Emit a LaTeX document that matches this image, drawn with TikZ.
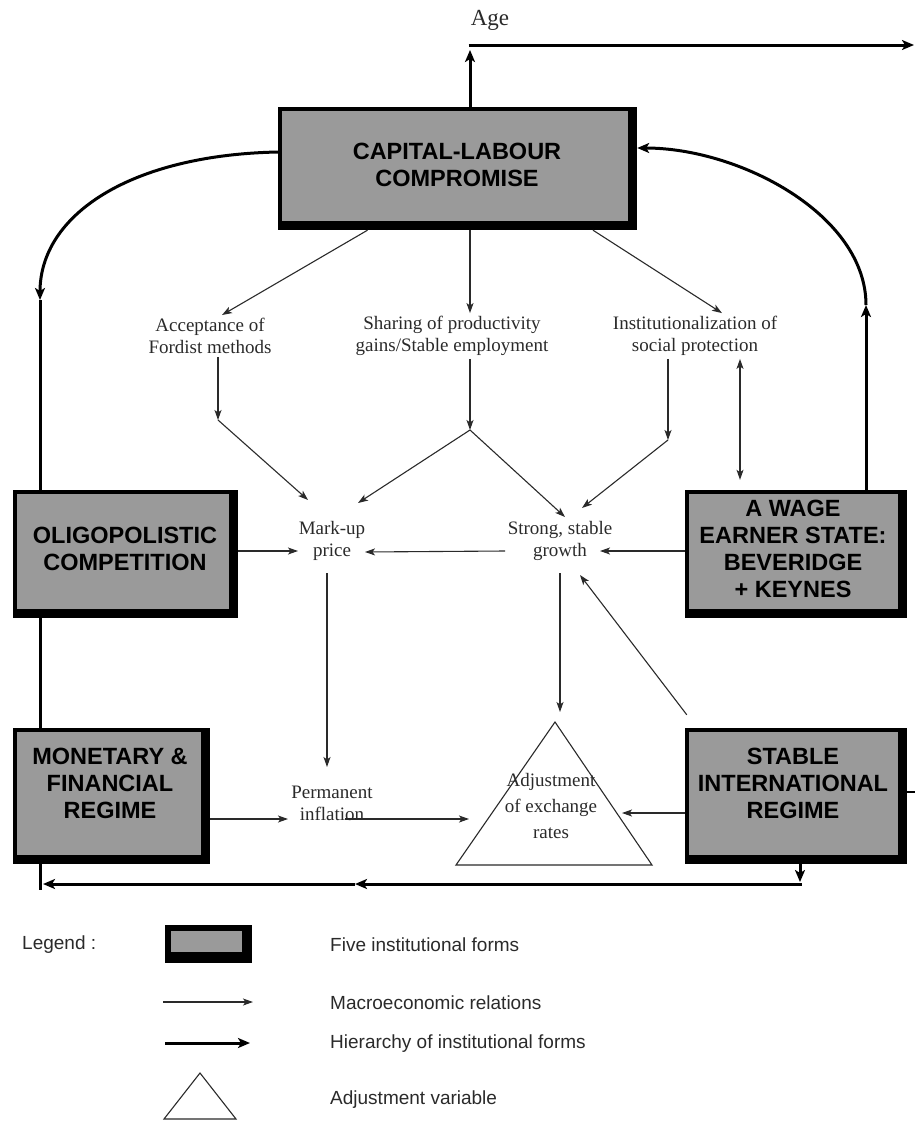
\documentclass[tikz,border=0pt]{standalone}
\usepackage{fontspec}
\setmainfont{Liberation Serif}
\setsansfont{Liberation Sans}
\usetikzlibrary{arrows.meta,calc}
\definecolor{boxgray}{HTML}{9A9A9A}
\definecolor{ink}{HTML}{2A2A2A}
\begin{document}
\begin{tikzpicture}[x=1pt,y=-1pt,
  inst/.style={fill=black, draw=none, inner sep=0pt,
    path picture={\fill[boxgray] ([shift={(4pt,-4pt)}]path picture bounding box.north west) rectangle ([shift={(-9pt,9pt)}]path picture bounding box.south east);}},
  legbox/.style={fill=black, draw=none, inner sep=0pt,
    path picture={\fill[boxgray] ([shift={(6pt,-6pt)}]path picture bounding box.north west) rectangle ([shift={(-10pt,11pt)}]path picture bounding box.south east);}},
  boxtxt/.style={font=\sffamily\bfseries\fontsize{23.5}{27}\selectfont, align=center, text=black, inner sep=0pt},
  lab/.style={font=\fontsize{19}{22}\selectfont, align=center, inner sep=3pt, text=ink},
  rel/.style={draw=ink, line width=1.1pt, -{Stealth[length=10pt,width=7pt,inset=2.5pt]}},
  hier/.style={draw=black, line width=3pt},
  htip/.style={-{Stealth[length=12pt,width=10pt,inset=3pt]}},
  legtxt/.style={font=\sffamily\fontsize{19}{22}\selectfont, anchor=west, text=ink, inner sep=0pt}]
\useasboundingbox (0,0) rectangle (915,1122);

% ---- institutional boxes
\node[inst, minimum width=359pt, minimum height=123pt] (cl) at (457.5,168.5) {};
\node[boxtxt] (clt) at (457,165) {CAPITAL-LABOUR\\COMPROMISE};
\node[inst, minimum width=225pt, minimum height=128pt] (oc) at (125.5,554) {};
\node[boxtxt] (oct) at (125,549) {OLIGOPOLISTIC\\COMPETITION};
\node[inst, minimum width=197pt, minimum height=136pt] (mf) at (111.5,796) {};
\node[boxtxt] (mft) at (110,783) {MONETARY \&\\FINANCIAL\\REGIME};
\node[inst, minimum width=222pt, minimum height=128pt] (wes) at (796,554) {};
\node[boxtxt] (west) at (793,549) {A WAGE\\EARNER STATE:\\BEVERIDGE\\+ KEYNES};
\node[inst, minimum width=222pt, minimum height=136pt] (sir) at (796,796) {};
\node[boxtxt] (sirt) at (793,783) {STABLE\\INTERNATIONAL\\REGIME};

% ---- labels
\node[lab, font=\fontsize{23}{26}\selectfont] (age) at (490,20) {Age};
\node[lab] (acc) at (210,336) {Acceptance of\\Fordist methods};
\node[lab] (sha) at (452,336) {Sharing of productivity\\gains/Stable employment};
\node[lab] (ins) at (695,336) {Institutionalization of\\social protection};
\node[lab] (mku) at (332,541) {Mark-up\\price};
\node[lab] (grw) at (560,541) {Strong, stable\\growth};
\node[lab] (inf) at (332,803) {Permanent\\inflation};

% ---- adjustment triangle
\coordinate (ta) at (555,722);
\coordinate (tl) at (456,865);
\coordinate (tr) at (652,865);
\draw[draw=ink, line width=1.1pt] (ta) -- (tl) -- (tr) -- cycle;
\node[lab, font=\fontsize{19}{26}\selectfont] (adj) at (551,806) {Adjustment\\of exchange\\rates};

% ---- coordinates
\coordinate (j1) at (218,420);
\coordinate (j2) at (470,430);
\coordinate (j3) at (668,440);
\coordinate (tat) at (560,712);
\coordinate (trl) at (469,819);
\coordinate (trr) at (622,813);
\coordinate (topc) at (470,45);
\coordinate (topr) at (914,45);
\coordinate (lv) at (40,300);
\coordinate (rv) at (866,305);
\coordinate (bl) at (40,884);
\coordinate (bm) at (355,884);
\coordinate (br) at (800,884);
\coordinate (rr) at (915,792);

% ---- hierarchy (thick)
\draw[hier,htip] ([xshift=12.5pt]cl.north) -- ([yshift=-5pt]topc);
\draw[hier,htip] ([xshift=-1.5pt]topc) -- (topr);
\draw[hier,htip] ([yshift=16.5pt]cl.west) .. controls (130,155) and (40,215) .. (lv);
\draw[hier] (lv) -- (lv |- oc.north);
\draw[hier] (lv |- oc.south) -- (lv |- mf.north);
\draw[hier] (lv |- mf.south) -- ([yshift=-6pt]bl);
\draw[hier,htip] (rv |- wes.north) -- (rv);
\draw[hier,htip] (rv) .. controls (866,215) and (740,148) .. ([yshift=20.5pt]cl.east);
\draw[hier,htip] (br |- sir.south) -- ([yshift=2pt]br);
\draw[hier,htip] ([xshift=1.5pt]br) -- (bm);
\draw[hier,htip] (bm) -- ([xshift=3pt]bl);
\draw[hier, line width=2pt] (sir.east |- rr) -- (rr);

% ---- macroeconomic relations (thin)
\draw[rel] ([xshift=-90pt]cl.south) -- ([xshift=12pt]acc.north);
\draw[rel] ([xshift=12.5pt]cl.south) -- ([xshift=18pt]sha.north);
\draw[rel] ([xshift=135.5pt]cl.south) -- ([xshift=27pt]ins.north);
\draw[rel] ([xshift=8pt]acc.south) -- (j1);
\draw[rel] ([xshift=18pt]sha.south) -- (j2);
\draw[rel] ([xshift=-27pt]ins.south) -- (j3);
\draw[rel] (j1) -- ([shift={(-24pt,41pt)}]mku.center);
\draw[rel] (j2) -- ([shift={(26pt,38pt)}]mku.center);
\draw[rel] (j2) -- ([shift={(5pt,24pt)}]grw.center);
\draw[rel] (j3) -- ([shift={(22pt,33pt)}]grw.center);
\draw[rel, {Stealth[length=10pt,width=7pt,inset=2.5pt]}-{Stealth[length=10pt,width=7pt,inset=2.5pt]}] ([xshift=45pt]ins.south) -- ([shift={(-56pt,10pt)}]wes.north);
\draw[rel] ([yshift=3pt]wes.west) -- ([shift={(40pt,-10pt)}]grw.center);
\draw[rel] ([shift={(-55pt,-10pt)}]grw.center) -- ([shift={(33pt,-11pt)}]mku.center);
\draw[rel] ([yshift=3pt]oc.east) -- ([shift={(-34pt,-10pt)}]mku.center);
\draw[rel] ([shift={(-5pt,-32pt)}]mku.center) -- ([shift={(-5pt,36pt)}]inf.center);
\draw[rel] ([shift={(0pt,-32pt)}]grw.center) -- (tat);
\draw[rel] ([shift={(2pt,13pt)}]sir.north west) -- ([shift={(20pt,-34pt)}]grw.center);
\draw[rel] ([yshift=-17pt]sir.west) -- (trr);
\draw[rel] ([yshift=-23pt]mf.east) -- ([shift={(-44pt,-16pt)}]inf.center);
\draw[rel] ([shift={(13pt,-16pt)}]inf.center) -- (trl);

% ---- legend
\node[legtxt] (legl) at (22,945) {Legend :};
\node[legbox, minimum width=87pt, minimum height=38pt] (lgb) at (208.5,944) {};
\node[legtxt] (l1) at (330,945) {Five institutional forms};
\coordinate (a1s) at (163,1002);
\coordinate (a1e) at (253,1002);
\draw[rel] (a1s) -- (a1e);
\node[legtxt] (l2) at (330,1003) {Macroeconomic relations};
\coordinate (a2s) at (165,1043);
\coordinate (a2e) at (250,1043);
\draw[hier,htip] (a2s) -- (a2e);
\node[legtxt] (l3) at (330,1044) {Hierarchy of institutional forms};
\coordinate (lta) at (200,1073);
\coordinate (ltl) at (164,1119);
\coordinate (ltr) at (236,1119);
\draw[draw=ink, line width=1.1pt] (lta) -- (ltl) -- (ltr) -- cycle;
\node[legtxt] (l4) at (330,1100) {Adjustment variable};
\end{tikzpicture}
\end{document}
